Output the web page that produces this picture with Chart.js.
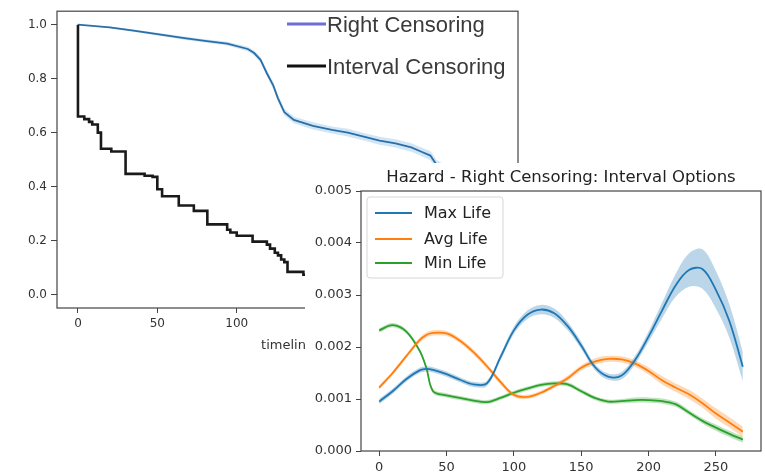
<!DOCTYPE html>
<html>
<head>
<meta charset="utf-8">
<script src="https://cdn.jsdelivr.net/npm/chart.js@4.4.1/dist/chart.umd.min.js"></script>
<style>
    html, body { margin: 0; padding: 0; background: #fff; }
    #wrap { position: relative; width: 765px; height: 476px; overflow: hidden; }
    #survivalWrap { position: absolute; left: 0; top: 0; width: 530px; height: 360px; }
    #hazardWrap { position: absolute; left: 305px; top: 163px; width: 460px; height: 313px; background: #fff; }
</style>
</head>
<body>
<div id="wrap">
    <div id="survivalWrap"><canvas id="survivalChart" width="530" height="360"></canvas></div>
    <div id="hazardWrap"><canvas id="hazardChart" width="460" height="313"></canvas></div>
</div>
<script>
    // ---------------- survival (left) ----------------
    var survXTicks = [0, 50, 100, 150, 200, 250];
    var survYTicks = [0, 0.2, 0.4, 0.6, 0.8, 1.0];

    // right censoring, KM estimate + half width of the band
    var rcTime = [0, 20, 35, 50, 67, 80, 94, 107, 111, 115, 119, 123, 126, 130, 136, 148, 160, 170, 180, 190, 200, 210, 216, 222, 226, 235, 245, 255, 264];
    var rcSurv = [1.0, 0.99, 0.978, 0.965, 0.95, 0.94, 0.93, 0.91, 0.895, 0.87, 0.82, 0.775, 0.727, 0.676, 0.647, 0.625, 0.61, 0.60, 0.585, 0.57, 0.56, 0.545, 0.53, 0.515, 0.48, 0.45, 0.42, 0.39, 0.36];
    var rcBand = [0, 0.003, 0.004, 0.005, 0.006, 0.006, 0.007, 0.008, 0.009, 0.01, 0.011, 0.012, 0.012, 0.012, 0.012, 0.013, 0.013, 0.014, 0.014, 0.015, 0.015, 0.016, 0.016, 0.017, 0.018, 0.019, 0.02, 0.021, 0.022];

    // interval censoring (step)
    var icTime = [0, 0, 4, 7, 9, 12.5, 14.5, 21, 30, 42, 47, 50, 53, 63.5, 73, 81.5, 94, 96, 100, 110, 119, 121, 124, 126, 128, 130, 132, 142, 150, 170, 200, 230, 264];
    var icSurv = [1.0, 0.66, 0.65, 0.64, 0.63, 0.60, 0.54, 0.53, 0.447, 0.44, 0.436, 0.39, 0.364, 0.33, 0.31, 0.26, 0.24, 0.23, 0.218, 0.196, 0.185, 0.17, 0.155, 0.145, 0.13, 0.12, 0.084, 0.073, 0.06, 0.045, 0.03, 0.015, 0.0];

    var survLabels = ['Right Censoring', 'Interval Censoring'];

    // ---------------- hazard (right) ----------------
    var hazXTicks = [0, 50, 100, 150, 200, 250];
    var hazYTicks = [0, 0.001, 0.002, 0.003, 0.004, 0.005];
    var hazTime = [0, 10, 20, 30, 35, 40, 50, 60, 70, 80, 90, 100, 110, 120, 130, 140, 150, 160, 170, 180, 190, 200, 210, 220, 230, 240, 250, 260, 270];

    var maxLife = [0.00095, 0.00115, 0.00138, 0.00155, 0.00158, 0.00156, 0.00148, 0.00137, 0.00128, 0.00130, 0.00180, 0.00232, 0.00262, 0.00272, 0.00265, 0.00240, 0.00203, 0.00162, 0.00143, 0.00145, 0.00175, 0.00220, 0.00270, 0.00318, 0.00348, 0.00350, 0.00310, 0.00250, 0.00162];
    var maxBand = [0.00005, 0.00005, 0.00005, 0.00005, 0.00005, 0.00005, 0.00005, 0.00005, 0.00005, 0.00005, 0.00006, 0.00007, 0.00008, 0.00009, 0.00009, 0.00008, 0.00007, 0.00006, 0.00006, 0.00007, 0.00008, 0.00010, 0.00015, 0.00022, 0.00032, 0.00038, 0.00036, 0.00032, 0.00028];

    var avgLife = [0.00122, 0.00150, 0.00182, 0.00213, 0.00223, 0.00227, 0.00226, 0.00212, 0.00190, 0.00163, 0.00133, 0.00108, 0.00104, 0.00112, 0.00125, 0.00140, 0.00160, 0.00172, 0.00177, 0.00176, 0.00168, 0.00154, 0.00136, 0.00122, 0.00109, 0.00092, 0.00072, 0.00055, 0.00037];
    var avgBand = [0.00004, 0.00004, 0.00004, 0.00005, 0.00005, 0.00005, 0.00005, 0.00005, 0.00005, 0.00005, 0.00005, 0.00004, 0.00004, 0.00004, 0.00004, 0.00005, 0.00005, 0.00006, 0.00006, 0.00006, 0.00006, 0.00007, 0.00008, 0.00008, 0.00009, 0.00009, 0.00010, 0.00010, 0.00010];

    var minLife = [0.00232, 0.00242, 0.00230, 0.00193, 0.00160, 0.00115, 0.00107, 0.00102, 0.00097, 0.00094, 0.00102, 0.00112, 0.00120, 0.00127, 0.00130, 0.00128, 0.00115, 0.00102, 0.00095, 0.00096, 0.00098, 0.00098, 0.00096, 0.00090, 0.00074, 0.00058, 0.00045, 0.00033, 0.00022];
    var minBand = [0.00004, 0.00004, 0.00004, 0.00004, 0.00004, 0.00004, 0.00004, 0.00004, 0.00004, 0.00004, 0.00004, 0.00004, 0.00004, 0.00004, 0.00004, 0.00004, 0.00004, 0.00004, 0.00004, 0.00004, 0.00005, 0.00005, 0.00005, 0.00005, 0.00005, 0.00005, 0.00006, 0.00006, 0.00006];

    var hazLabels = ['Max Life', 'Avg Life', 'Min Life'];
    var hazTitle = 'Hazard - Right Censoring: Interval Options';

    //---------------------------------------------------------------------------
    function pts(xs, ys, off, sign) {
        return xs.map(function (x, i) {
            var d = off ? off[i] * sign : 0;
            return { x: x, y: ys[i] + d };
        });
    }

    // white background so the hazard figure covers the one below it
    var whiteBg = {
        id: 'whiteBg',
        beforeDraw: function (chart) {
            var ctx = chart.ctx;
            ctx.save();
            ctx.fillStyle = '#fff';
            ctx.fillRect(0, 0, chart.width, chart.height);
            ctx.restore();
        }
    };

    // matplotlib style spines on all four sides
    var axesBox = {
        id: 'axesBox',
        afterDraw: function (chart) {
            var a = chart.chartArea, ctx = chart.ctx;
            ctx.save();
            ctx.strokeStyle = '#444';
            ctx.lineWidth = 1.2;
            ctx.strokeRect(a.left, a.top, a.right - a.left, a.bottom - a.top);
            ctx.restore();
        }
    };

    // legend drawn by hand (placed inside / over the axes)
    var boxLegend = {
        id: 'boxLegend',
        afterDraw: function (chart, args, o) {
            var ctx = chart.ctx;
            ctx.save();
            if (o.frame) {
                ctx.beginPath();
                if (ctx.roundRect) ctx.roundRect(o.frame[0], o.frame[1], o.frame[2], o.frame[3], 3);
                else ctx.rect(o.frame[0], o.frame[1], o.frame[2], o.frame[3]);
                ctx.fillStyle = 'rgba(255,255,255,0.8)';
                ctx.fill();
                ctx.strokeStyle = o.frameColor;
                ctx.lineWidth = 1;
                ctx.stroke();
            }
            ctx.font = o.font;
            ctx.textBaseline = 'middle';
            for (var i = 0; i < o.labels.length; i++) {
                var y = o.rows[i];
                ctx.beginPath();
                ctx.moveTo(o.x0, y);
                ctx.lineTo(o.x1, y);
                ctx.strokeStyle = o.colors[i];
                ctx.lineWidth = o.lineWidth;
                ctx.stroke();
                ctx.fillStyle = o.textColor;
                ctx.fillText(o.labels[i], o.tx, y + o.textDy);
            }
            if (o.title) {
                var a = chart.chartArea;
                ctx.font = o.titleFont;
                ctx.textAlign = 'center';
                ctx.fillStyle = o.textColor;
                ctx.fillText(o.title, (a.left + a.right) / 2, o.titleY);
            }
            ctx.restore();
        }
    };

    function axis(min, max, tickList, fmt, fitFn, fontSize, tickLen) {
        return {
            type: 'linear',
            min: min,
            max: max,
            afterBuildTicks: function (s) {
                s.ticks = tickList.map(function (v) { return { value: v }; });
            },
            afterFit: fitFn,
            grid: { display: true, drawOnChartArea: false, drawTicks: true, tickLength: tickLen, color: '#444', tickColor: '#444' },
            border: { display: false },
            ticks: {
                autoSkip: false,
                maxRotation: 0,
                padding: 4,
                color: '#333',
                font: { family: 'DejaVu Sans', size: fontSize },
                callback: function (v) { return fmt(v); }
            }
        };
    }

    //------------------------------- survival chart -----------------------------
    var survX = axis(-13.2, 277.2, survXTicks, function (v) { return String(v); },
        function (s) { s.height = 45; }, 12, 5);
    survX.title = { display: true, text: 'timeline', color: '#333', padding: 0, font: { family: 'DejaVu Sans', size: 13 } };
    var survY = axis(-0.05, 1.05, survYTicks, function (v) { return v.toFixed(1); },
        function (s) { s.width = 57; }, 12, 6);

    var survivalChart = new Chart(document.getElementById('survivalChart').getContext('2d'), {
        type: 'line',
        data: {
            datasets: [{
                data: pts(icTime, icSurv),
                borderColor: '#1a1a1a',
                borderWidth: 2.6,
                stepped: true,
                pointRadius: 0,
                fill: false
            }, {
                data: pts(rcTime, rcSurv),
                borderColor: '#2b6fa6',
                borderWidth: 1.8,
                pointRadius: 0,
                fill: false
            }, {
                data: pts(rcTime, rcSurv, rcBand, 1),
                borderWidth: 0,
                pointRadius: 0,
                backgroundColor: 'rgba(100,170,225,0.3)',
                fill: '+1'
            }, {
                data: pts(rcTime, rcSurv, rcBand, -1),
                borderWidth: 0,
                pointRadius: 0,
                fill: false
            }]
        },
        options: {
            responsive: false,
            animation: false,
            layout: { padding: { left: 0, right: 12, top: 5, bottom: 7 } },
            scales: { x: survX, y: survY },
            plugins: {
                legend: { display: false },
                tooltip: { enabled: false },
                boxLegend: {
                    labels: survLabels,
                    colors: ['#6b6fd6', '#111'],
                    rows: [24, 66],
                    x0: 287, x1: 326, tx: 327, textDy: 2,
                    lineWidth: 3,
                    font: '22px "Liberation Sans", Arial, sans-serif',
                    textColor: '#3a3a3a'
                }
            }
        },
        plugins: [whiteBg, axesBox, boxLegend]
    });

    //------------------------------- hazard chart -----------------------------
    var hazX = axis(-13.5, 283.5, hazXTicks, function (v) { return String(v); },
        function (s) { s.height = 25; }, 13, 5);
    var hazY = axis(0, 0.005, hazYTicks, function (v) { return v.toFixed(3); },
        function (s) { s.width = 56; }, 13, 5);

    var hazSeries = [
        { y: maxLife, band: maxBand, line: '#1f77b4', fill: 'rgba(31,119,180,0.3)' },
        { y: avgLife, band: avgBand, line: '#ff7f0e', fill: 'rgba(255,127,14,0.3)' },
        { y: minLife, band: minBand, line: '#2ca02c', fill: 'rgba(44,160,44,0.3)' }
    ];
    var hazSets = [];
    hazSeries.forEach(function (s) {
        hazSets.push({
            data: pts(hazTime, s.y),
            borderColor: s.line,
            borderWidth: 1.8,
            pointRadius: 0,
            tension: 0.35,
            fill: false
        });
    });
    hazSeries.forEach(function (s) {
        hazSets.push({
            data: pts(hazTime, s.y, s.band, 1),
            borderWidth: 0,
            pointRadius: 0,
            tension: 0.35,
            backgroundColor: s.fill,
            fill: '+1'
        });
        hazSets.push({
            data: pts(hazTime, s.y, s.band, -1),
            borderWidth: 0,
            pointRadius: 0,
            tension: 0.35,
            fill: false
        });
    });

    var hazardChart = new Chart(document.getElementById('hazardChart').getContext('2d'), {
        type: 'line',
        data: { datasets: hazSets },
        options: {
            responsive: false,
            animation: false,
            layout: { padding: { left: 0, right: 4, top: 28, bottom: 0 } },
            scales: { x: hazX, y: hazY },
            plugins: {
                legend: { display: false },
                tooltip: { enabled: false },
                boxLegend: {
                    labels: hazLabels,
                    colors: ['#1f77b4', '#ff7f0e', '#2ca02c'],
                    rows: [50, 76, 100],
                    x0: 70, x1: 107, tx: 119, textDy: 1,
                    lineWidth: 1.8,
                    frame: [62, 34, 136, 81],
                    frameColor: '#d6d6d6',
                    font: '16px "DejaVu Sans", sans-serif',
                    textColor: '#222',
                    title: hazTitle,
                    titleFont: '16.5px "DejaVu Sans", sans-serif',
                    titleY: 15
                }
            }
        },
        plugins: [whiteBg, axesBox, boxLegend]
    });
</script>
</body>
</html>
